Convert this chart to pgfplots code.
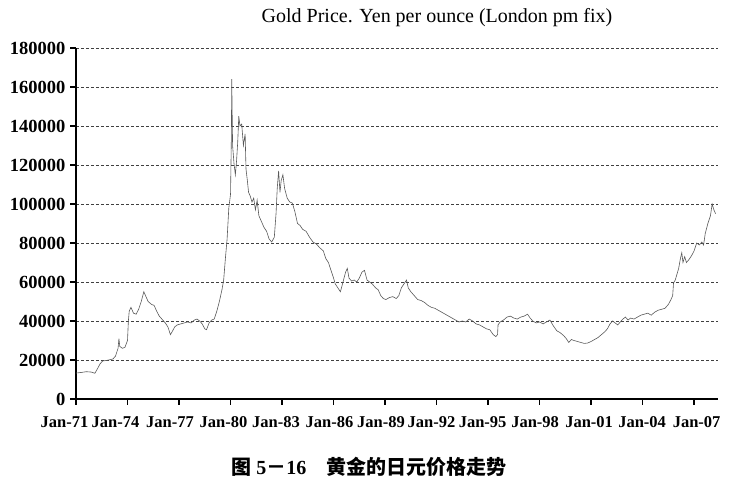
\documentclass[border=0pt]{standalone}
\usepackage{pgfplots}
\pgfplotsset{compat=1.18}
\usepackage{fontspec}
\setmainfont{Liberation Serif}
\newfontfamily\cjk{Noto Sans CJK SC}
% label shifted sideways by half of #1 from its tick
\newcommand\sh[2]{\makebox[0pt]{\hspace*{#1}#2}}
\pgfplotstableread{
year value
1971.0 13300
1971.3 13600
1971.6 14000
1971.9 13800
1972.1 13200
1972.25 15500
1972.4 18000
1972.55 19500
1972.8 19800
1973.0 20200
1973.15 20500
1973.3 22000
1973.45 26000
1973.5 31000
1973.55 27000
1973.7 26000
1973.85 26500
1974.0 30000
1974.05 40000
1974.1 45000
1974.2 47000
1974.35 44000
1974.5 43500
1974.65 46000
1974.8 50000
1974.95 55000
1975.05 53000
1975.2 50000
1975.4 48500
1975.55 48000
1975.7 45000
1975.85 42500
1976.0 41000
1976.2 39000
1976.35 37000
1976.5 33000
1976.6 34500
1976.75 37000
1976.9 38000
1977.1 38500
1977.3 39000
1977.5 39500
1977.7 39000
1977.9 40500
1978.05 41000
1978.2 40000
1978.35 38500
1978.5 36000
1978.6 35500
1978.75 39000
1978.9 40500
1979.05 41000
1979.2 45000
1979.35 50000
1979.5 56000
1979.6 61000
1979.7 72000
1979.8 82000
1979.9 98000
1980.0 105000
1980.05 135000
1980.07 164000
1980.12 130000
1980.2 121000
1980.28 115000
1980.35 122000
1980.42 132000
1980.48 145000
1980.55 140000
1980.65 141000
1980.75 130000
1980.85 136000
1980.9 118000
1980.98 112000
1981.05 106000
1981.15 104000
1981.25 101000
1981.35 103000
1981.45 97000
1981.55 102000
1981.65 94000
1981.8 91000
1981.95 88000
1982.1 86000
1982.25 82000
1982.4 80500
1982.55 83000
1982.65 95000
1982.72 108000
1982.8 117000
1982.88 106000
1982.95 112000
1983.05 115000
1983.15 108000
1983.3 103000
1983.45 101000
1983.6 100500
1983.75 96000
1983.9 90000
1984.05 89000
1984.2 87000
1984.4 86000
1984.6 83000
1984.8 80500
1985.0 79500
1985.2 77500
1985.4 76000
1985.55 72000
1985.7 70000
1985.85 66000
1986.0 62000
1986.1 59000
1986.25 57000
1986.4 55000
1986.55 60000
1986.7 65000
1986.8 67000
1986.9 62000
1987.05 60500
1987.2 61000
1987.35 60000
1987.5 62000
1987.65 65000
1987.8 66000
1987.95 61000
1988.1 60000
1988.25 59000
1988.45 57000
1988.6 56000
1988.75 53000
1988.9 51500
1989.05 51000
1989.25 52000
1989.45 52500
1989.65 51500
1989.8 53000
1989.95 57000
1990.1 59000
1990.25 61000
1990.35 57000
1990.5 55000
1990.7 53000
1990.9 51000
1991.1 50500
1991.3 49500
1991.5 48000
1991.7 47000
1991.9 46500
1992.1 45500
1992.3 44500
1992.5 43500
1992.7 42500
1992.9 41500
1993.1 40500
1993.3 39500
1993.5 40000
1993.7 39500
1993.9 41000
1994.1 40000
1994.3 38500
1994.5 38000
1994.7 37000
1994.9 36000
1995.1 35500
1995.3 33000
1995.45 32000
1995.55 33000
1995.58 38000
1995.7 39500
1995.9 40500
1996.1 42000
1996.3 42500
1996.5 41500
1996.7 41000
1996.9 42000
1997.1 42500
1997.3 43500
1997.45 41500
1997.6 40000
1997.8 39000
1998.0 39500
1998.2 38500
1998.4 39500
1998.6 40500
1998.8 37500
1999.0 35000
1999.2 34000
1999.4 32500
1999.55 31000
1999.7 29000
1999.85 30500
2000.0 30000
2000.2 29500
2000.4 29000
2000.6 28500
2000.8 28700
2001.0 29500
2001.2 30500
2001.4 31500
2001.6 33000
2001.8 34500
2001.95 36000
2002.1 38500
2002.25 40000
2002.4 39000
2002.55 38000
2002.7 39500
2002.85 41000
2003.0 42000
2003.15 40500
2003.3 41500
2003.5 41000
2003.7 42000
2003.9 43000
2004.1 43500
2004.3 44000
2004.5 43000
2004.7 44500
2004.9 45500
2005.1 46000
2005.3 46500
2005.5 48500
2005.65 51000
2005.75 53000
2005.8 59500
2005.9 61000
2006.0 64000
2006.1 67000
2006.2 72000
2006.28 75000
2006.35 70000
2006.45 73000
2006.55 70000
2006.7 71500
2006.85 73500
2007.0 76000
2007.15 80000
2007.3 79000
2007.45 80500
2007.55 79000
2007.65 85000
2007.8 90000
2007.95 94000
2008.05 100000
2008.15 97000
2008.25 95000
}\gold
\begin{document}
\begin{tikzpicture}[x=1pt,y=1pt]
\path[use as bounding box] (-76,-95) rectangle (658,399);
\begin{axis}[
  at={(0,0)}, anchor=south west,
  scale only axis, width=642pt, height=351pt,
  xmin=1971, xmax=2008.39, ymin=0, ymax=180000,
  axis x line*=bottom, axis y line*=left,
  axis line style={line width=1.6pt, black},
  tick align=outside,
  major tick length=6pt,
  every tick/.style={line width=1.4pt, black, solid},
  scaled y ticks=false,
  xtick={1971,1974,1977,1980,1983,1986,1989,1992,1995,1998,2001,2004,2007},
  xticklabels={\sh{-23pt}{Jan-71},\sh{-24pt}{Jan-74},\sh{-18pt}{Jan-77},\sh{-14pt}{Jan-80},\sh{-12pt}{Jan-83},\sh{-8pt}{Jan-86},\sh{-8pt}{Jan-89},\sh{-10pt}{Jan-92},\sh{-11pt}{Jan-95},\sh{-9pt}{Jan-98},\sh{-4pt}{Jan-01},\sh{-1pt}{Jan-04},\sh{5pt}{Jan-07}},
  ytick={0,20000,40000,60000,80000,100000,120000,140000,160000,180000},
  yticklabels={0,20000,40000,60000,80000,100000,120000,140000,160000,180000},
  ymajorgrids,
  major grid style={dash pattern=on 3pt off 2pt, line width=0.6pt, black!75},
  /pgf/number format/assume math mode=true,
  xticklabel style={font=\fontsize{16.5}{16.5}\selectfont\bfseries, inner xsep=0pt, anchor=base, yshift=-23pt},
  yticklabel style={font=\fontsize{18.5}{18.5}\selectfont\bfseries, xshift=-1pt},
  clip=false,
]
\addplot[black!65, line width=0.6pt] table[x=year, y=value] {\gold};
\end{axis}
\node[font=\fontsize{20}{20}\selectfont] at (361,381) {Gold Price. Yen per ounce (London pm fix)};
\node[font=\fontsize{20}{20}\selectfont\cjk\bfseries] at (293,-68) {图 {\rmfamily\bfseries 5}－{\rmfamily\bfseries 16}\hspace{1em}黄金的日元价格走势};
\end{tikzpicture}
\end{document}
